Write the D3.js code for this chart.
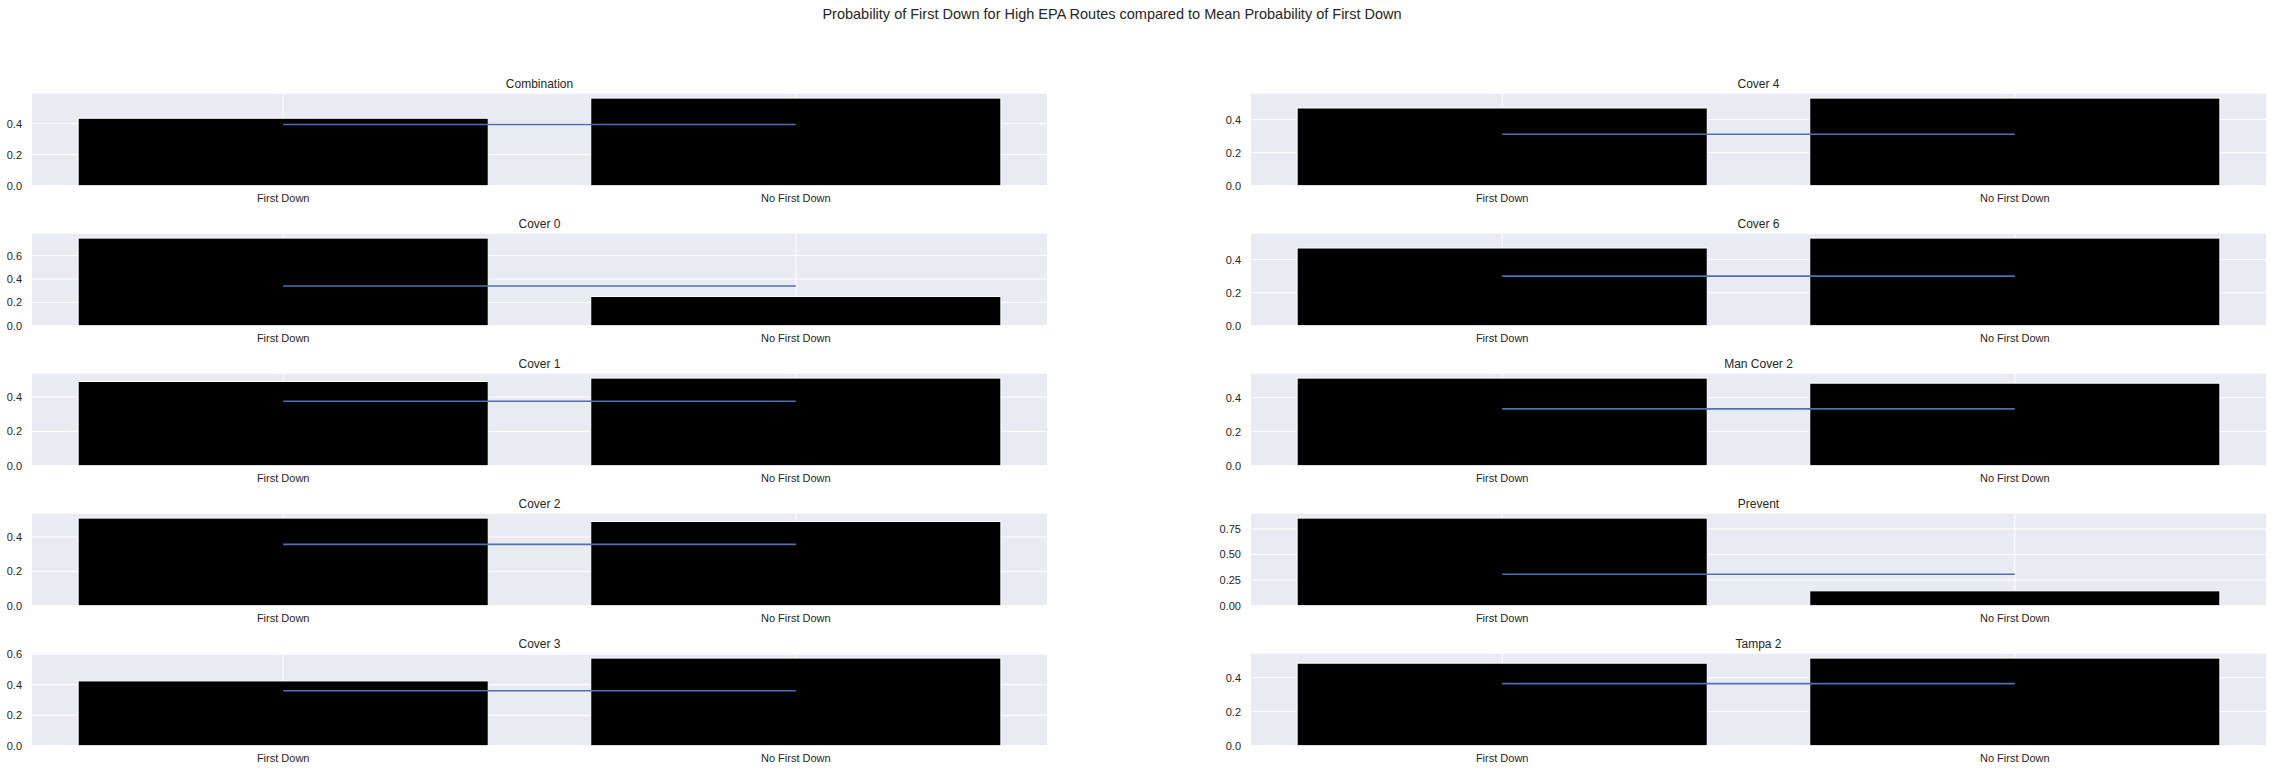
<!DOCTYPE html>
<html><head><meta charset="utf-8">
<script src="https://cdn.jsdelivr.net/npm/d3@7"></script>
<style>body{margin:0;background:#fff}</style>
</head><body><svg id="chart" width="2271" height="772"></svg>
<script>
const chartTitle = "Probability of First Down for High EPA Routes compared to Mean Probability of First Down";
const coverages = ["Combination","Cover 0","Cover 1","Cover 2","Cover 3","Cover 4","Cover 6","Man Cover 2","Prevent","Tampa 2"];
const categories = ["First Down","No First Down"];
const firstDownProb   = [0.435, 0.75, 0.49, 0.51, 0.425, 0.47, 0.47, 0.515, 0.855, 0.485];
const noFirstDownProb = [0.565, 0.25, 0.51, 0.49, 0.575, 0.53, 0.53, 0.485, 0.145, 0.515];
const meanProb        = [0.395, 0.34, 0.375, 0.357, 0.361, 0.311, 0.30, 0.334, 0.307, 0.365];
const yTickValues = [
  [0, 0.2, 0.4], [0, 0.2, 0.4, 0.6], [0, 0.2, 0.4], [0, 0.2, 0.4], [0, 0.2, 0.4, 0.6],
  [0, 0.2, 0.4], [0, 0.2, 0.4], [0, 0.2, 0.4], [0, 0.25, 0.5, 0.75], [0, 0.2, 0.4]
];

const svg = d3.select("#chart");
const font = "'Liberation Sans', Arial, sans-serif";
const colLeft = [32, 1251];
const axW = 1015, axH = 92, top0 = 93.7, rowPitch = 140;

svg.append("text")
  .attr("x", 1112).attr("y", 19)
  .attr("text-anchor", "middle")
  .attr("font-family", font).attr("font-size", 14.5).attr("fill", "#262626")
  .text(chartTitle);

coverages.forEach((name, i) => {
  const col = Math.floor(i / 5), row = i % 5;
  const left = colLeft[col], top = top0 + row * rowPitch;
  const vals = [firstDownProb[i], noFirstDownProb[i]];
  const ymax = Math.max(vals[0], vals[1], meanProb[i]) * 1.05;
  const x = d3.scaleBand().domain(categories).range([left, left + axW]).paddingInner(0.2).paddingOuter(0.09);
  const y = d3.scaleLinear().domain([0, ymax]).range([top + axH, top]);
  const ticks = yTickValues[i];
  const fmt = ticks.some(t => Math.abs(t * 10 - Math.round(t * 10)) > 1e-9) ? d3.format(".2f") : d3.format(".1f");
  const g = svg.append("g");

  g.append("rect").attr("x", left).attr("y", top).attr("width", axW).attr("height", axH).attr("fill", "#EAEAF2");

  // grid
  g.selectAll(".hg").data(ticks).join("line")
    .attr("x1", left).attr("x2", left + axW)
    .attr("y1", d => y(d)).attr("y2", d => y(d))
    .attr("stroke", "#fff").attr("stroke-width", 1);
  g.selectAll(".vg").data(categories).join("line")
    .attr("x1", d => x(d) + x.bandwidth() / 2).attr("x2", d => x(d) + x.bandwidth() / 2)
    .attr("y1", top).attr("y2", top + axH)
    .attr("stroke", "#fff").attr("stroke-width", 1);

  // bars
  g.selectAll(".bar").data(categories).join("rect")
    .attr("x", d => x(d)).attr("width", x.bandwidth())
    .attr("y", (d, k) => y(vals[k])).attr("height", (d, k) => y(0) - y(vals[k]))
    .attr("fill", "#000").attr("stroke", "#fff").attr("stroke-width", 1);

  // mean line
  const line = d3.line().x(d => x(d) + x.bandwidth() / 2).y(() => y(meanProb[i]));
  g.append("path").datum(categories).attr("d", line)
    .attr("fill", "none").attr("stroke", "#4C72B0").attr("stroke-width", 1.6);

  // y axis
  const ya = d3.axisLeft(y).tickValues(ticks).tickFormat(fmt).tickSize(0).tickPadding(10);
  const yg = g.append("g").attr("transform", `translate(${left},0)`).call(ya);
  yg.select(".domain").remove();
  yg.selectAll("text").attr("font-family", font).attr("font-size", 11).attr("fill", "#262626");

  // x axis
  const xa = d3.axisBottom(x).tickSize(0).tickPadding(9);
  const xg = g.append("g").attr("transform", `translate(0,${top + axH})`).call(xa);
  xg.select(".domain").remove();
  xg.selectAll("text").attr("font-family", font).attr("font-size", 11).attr("fill", "#262626");

  // subplot title
  g.append("text").attr("x", left + axW / 2).attr("y", top - 5.5)
    .attr("text-anchor", "middle").attr("font-family", font).attr("font-size", 12).attr("fill", "#262626")
    .text(name);
});
</script></body></html>
